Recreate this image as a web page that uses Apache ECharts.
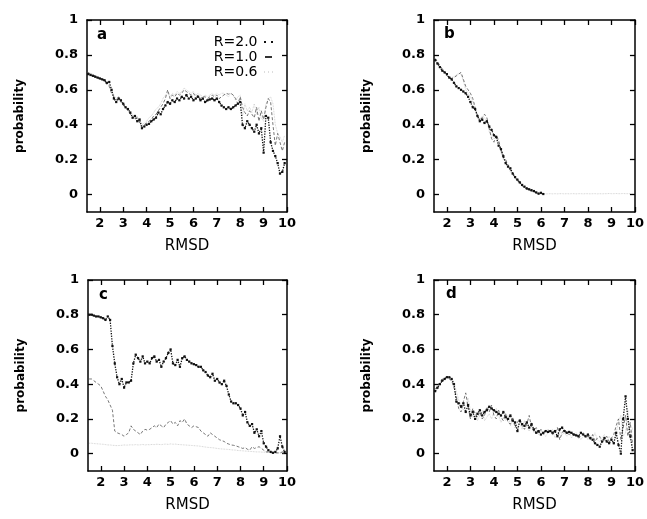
<!DOCTYPE html>
<html>
<head>
<meta charset="utf-8">
<script src="https://cdn.jsdelivr.net/npm/echarts@6/dist/echarts.min.js"></script>
<style>
html,body{margin:0;padding:0;background:#fff;}
#chart{width:647px;height:519px;}
</style>
</head>
<body>
<div id="chart"></div>
<script>
// RMSD grid: 1.5 .. 9.9 step 0.1 (85 points)
const rmsd = Array.from({length: 85}, (_, i) => +(1.5 + 0.1 * i).toFixed(1));
const xTicks = [2, 3, 4, 5, 6, 7, 8, 9, 10];
const yTicks = [0, 0.2, 0.4, 0.6, 0.8, 1];
const panelLabels = ['a', 'b', 'c', 'd'];
const seriesNames = ['R=2.0', 'R=1.0', 'R=0.6'];

// Panel a
const aR20 = [
  .69,.685,.68,.675,.67,.665,.66,.655,.64,.645,
  .60,.55,.53,.55,.54,.52,.50,.49,.47,.44,
  .45,.42,.43,.38,.39,.40,.405,.42,.43,.44,
  .47,.46,.49,.51,.53,.52,.54,.53,.55,.54,
  .56,.55,.57,.55,.56,.54,.55,.56,.54,.55,
  .53,.54,.545,.55,.54,.55,.53,.51,.50,.49,
  .50,.49,.50,.51,.52,.53,.40,.38,.42,.40,
  .38,.36,.40,.35,.38,.24,.45,.44,.30,.25,
  .22,.18,.12,.13,.18];
const aR10 = [
  .70,.69,.685,.68,.67,.665,.66,.65,.63,.62,
  .58,.56,.54,.56,.53,.51,.50,.48,.46,.45,
  .43,.44,.41,.39,.40,.41,.42,.43,.45,.46,
  .48,.50,.52,.55,.60,.55,.57,.56,.58,.57,
  .58,.60,.59,.58,.57,.58,.56,.57,.55,.56,
  .56,.55,.56,.57,.56,.57,.55,.56,.57,.58,
  .575,.58,.57,.55,.52,.56,.50,.47,.45,.48,
  .46,.44,.50,.42,.48,.43,.50,.55,.53,.40,
  .28,.35,.30,.25,.30];
const aR06 = [
  .70,.695,.69,.68,.675,.67,.66,.65,.64,.63,
  .60,.57,.55,.54,.55,.52,.50,.49,.47,.46,
  .44,.45,.42,.40,.41,.42,.44,.45,.47,.49,
  .50,.52,.55,.57,.58,.56,.58,.57,.59,.58,
  .59,.61,.60,.59,.58,.59,.57,.58,.57,.56,
  .57,.56,.57,.58,.57,.58,.57,.58,.58,.57,
  .56,.58,.57,.54,.56,.57,.45,.52,.48,.50,
  .47,.52,.46,.50,.44,.42,.52,.55,.56,.52,
  .40,.35,.33,.30,.34];

// Panel b
const bR20 = [
  .77,.75,.73,.71,.70,.69,.67,.66,.64,.62,
  .61,.60,.59,.58,.56,.53,.50,.49,.45,.42,
  .43,.41,.42,.39,.37,.34,.33,.28,.26,.22,
  .18,.16,.15,.12,.10,.085,.07,.055,.045,.035,
  .03,.025,.02,.012,.005,.01,.003,null,null,null,
  null,null,null,null,null,null,null,null,null,null,
  null,null,null,null,null,null,null,null,null,null,
  null,null,null,null,null,null,null,null,null,null,
  null,null,null,null,null];
const bR10 = [
  .78,.76,.74,.72,.70,.68,.67,.665,.67,.68,
  .69,.70,.66,.62,.60,.58,.55,.50,.45,.43,
  .44,.46,.44,.38,.32,.30,.34,.31,.26,.21,
  .20,.17,.14,.12,.10,.08,.065,.05,.04,.03,
  .025,.02,.015,.01,.008,.005,.004,null,null,null,
  null,null,null,null,null,null,null,null,null,null,
  null,null,null,null,null,null,null,null,null,null,
  null,null,null,null,null,null,null,null,null,null,
  null,null,null,null,null];
const bR06 = [
  .775,.755,.735,.715,.70,.685,.675,.67,.675,.685,
  .695,.69,.65,.60,.58,.56,.53,.48,.44,.43,
  .45,.44,.42,.36,.33,.32,.33,.29,.24,.20,
  .19,.16,.13,.11,.09,.075,.06,.05,.04,.03,
  .025,.02,.015,.012,.008,.006,.005,.004,.004,.005,
  .004,.005,.004,.005,.005,.004,.005,.004,.005,.005,
  .004,.005,.005,.004,.005,.005,.004,.005,.005,.004,
  .005,.004,.005,.005,.006,.005,.005,.006,.005,.005,
  .006,.005,.005,.006,.006];

// Panel c
const cR20 = [
  .80,.80,.795,.79,.79,.785,.78,.77,.79,.77,
  .62,.52,.44,.40,.43,.38,.41,.41,.42,.52,
  .57,.55,.53,.56,.52,.53,.52,.55,.56,.53,
  .54,.50,.53,.55,.58,.60,.52,.51,.54,.50,
  .55,.56,.54,.53,.52,.515,.51,.50,.50,.48,
  .47,.45,.44,.46,.42,.43,.41,.40,.42,.39,
  .34,.30,.29,.29,.28,.26,.22,.24,.18,.16,
  .17,.12,.14,.10,.13,.06,.04,.02,.01,.005,
  .01,.03,.10,.04,.01];
const cR10 = [
  .43,.43,.42,.41,.40,.39,.36,.33,.31,.28,
  .25,.13,.12,.115,.11,.10,.11,.12,.16,.14,
  .13,.12,.11,.13,.14,.135,.14,.15,.16,.15,
  .17,.16,.15,.17,.18,.19,.17,.18,.16,.19,
  .18,.20,.17,.16,.15,.16,.155,.15,.13,.12,
  .11,.10,.12,.11,.10,.09,.08,.075,.07,.06,
  .055,.05,.048,.045,.04,.035,.03,.035,.025,.02,
  .04,.03,.035,.04,.03,.02,.01,.01,.005,.005,
  .004,.004,.004,.01,.004];
const cR06 = [
  .06,.06,.058,.057,.056,.055,.054,.052,.05,.05,
  .048,.047,.046,.047,.048,.05,.049,.05,.051,.05,
  .052,.05,.051,.053,.05,.052,.051,.053,.052,.054,
  .053,.052,.054,.055,.053,.056,.054,.055,.053,.052,
  .051,.05,.049,.048,.047,.046,.045,.044,.042,.04,
  .038,.036,.035,.034,.032,.03,.028,.027,.026,.025,
  .024,.022,.021,.02,.018,.017,.016,.015,.014,.013,
  .012,.011,.01,.01,.009,.008,.008,.007,.006,.006,
  .005,.005,.005,.004,.004];

// Panel d
const dR20 = [
  .36,.38,.40,.42,.43,.44,.44,.43,.40,.30,
  .29,.27,.29,.24,.28,.22,.24,.20,.23,.25,
  .22,.24,.25,.27,.26,.25,.24,.23,.22,.24,
  .21,.20,.22,.19,.18,.13,.19,.17,.16,.18,
  .15,.17,.14,.12,.13,.11,.12,.13,.125,.13,
  .12,.13,.10,.14,.15,.13,.12,.125,.12,.11,
  .105,.10,.12,.11,.10,.11,.09,.08,.06,.05,
  .04,.07,.09,.07,.06,.08,.06,.12,.05,.00,
  .20,.33,.20,.10,.02];
const dR10 = [
  .37,.39,.41,.43,.435,.44,.43,.42,.38,.33,
  .26,.24,.30,.35,.27,.20,.26,.23,.21,.24,
  .20,.22,.27,.24,.28,.22,.20,.25,.21,.19,
  .23,.18,.17,.21,.15,.18,.20,.16,.14,.17,
  .22,.15,.13,.15,.12,.14,.11,.13,.14,.12,
  .11,.12,.15,.08,.12,.14,.12,.11,.12,.10,
  .11,.09,.10,.12,.09,.10,.08,.11,.07,.09,
  .10,.06,.08,.10,.07,.09,.11,.16,.20,.08,
  .15,.22,.10,.18,.05];
const dR06 = [
  .35,.38,.40,.42,.43,.44,.44,.43,.41,.36,
  .31,.28,.25,.27,.32,.25,.21,.24,.19,.22,
  .25,.19,.21,.23,.20,.24,.26,.22,.18,.21,
  .19,.22,.16,.19,.17,.15,.18,.14,.19,.15,
  .13,.18,.12,.14,.11,.13,.12,.10,.12,.13,
  .14,.09,.11,.13,.11,.12,.10,.13,.09,.11,
  .12,.10,.08,.10,.11,.08,.10,.09,.12,.08,
  .07,.09,.11,.06,.10,.08,.05,.12,.18,.22,
  .10,.12,.25,.08,.15];

const panelData = [
  [aR20, aR10, aR06],
  [bR20, bR10, bR06],
  [cR20, cR10, cR06],
  [dR20, dR10, dR06]
];

const FONT = 'DejaVu Sans';
const grids = [
  {left: 87, top: 20, width: 200, height: 192},
  {left: 434, top: 20, width: 201, height: 192},
  {left: 88, top: 280, width: 199, height: 191},
  {left: 434, top: 280, width: 201, height: 191}
];

const lineStyleAxis = {color: '#000', width: 1.5};
const xAxes = [], yAxes = [], series = [], graphics = [];

const styles = [
  {color: '#111', lineStyle: {type: 'dotted', width: 1.3, color: '#111'}, symbol: 'rect', symbolSize: 2.2, showSymbol: true},
  {color: '#555', lineStyle: {type: [3, 2], width: 0.8, color: '#555'}, symbol: 'none', showSymbol: false},
  {color: '#c4c4c4', lineStyle: {type: 'dotted', width: 0.8, color: '#c4c4c4'}, symbol: 'none', showSymbol: false}
];

grids.forEach((g, gi) => {
  const tickCommon = {show: true, inside: true, length: 5, lineStyle: {color: '#000', width: 1.3}};
  xAxes.push({
    gridIndex: gi, type: 'value', min: 1.45, max: 10, position: 'bottom',
    axisLine: {show: true, onZero: false, lineStyle: lineStyleAxis},
    axisTick: Object.assign({customValues: xTicks}, tickCommon),
    axisLabel: {customValues: xTicks, color: '#000', fontFamily: FONT, fontWeight: 'bold', fontSize: 13, margin: 5},
    splitLine: {show: false},
    name: 'RMSD', nameLocation: 'middle', nameGap: 27,
    nameTextStyle: {color: '#000', fontFamily: FONT, fontSize: 15}
  });
  xAxes.push({
    gridIndex: gi, type: 'value', min: 1.45, max: 10, position: 'top',
    axisLine: {show: true, onZero: false, lineStyle: lineStyleAxis},
    axisTick: Object.assign({customValues: xTicks}, tickCommon),
    axisLabel: {show: false}, splitLine: {show: false}
  });
  yAxes.push({
    gridIndex: gi, type: 'value', min: -0.1, max: 1, position: 'left',
    axisLine: {show: true, onZero: false, lineStyle: lineStyleAxis},
    axisTick: Object.assign({customValues: yTicks}, tickCommon),
    axisLabel: {customValues: yTicks, color: '#000', fontFamily: FONT, fontWeight: 'bold', fontSize: 13, margin: 9},
    splitLine: {show: false},
    name: 'probability', nameLocation: 'middle', nameGap: 61,
    nameTextStyle: {color: '#000', fontFamily: FONT, fontWeight: 'bold', fontSize: 12}
  });
  yAxes.push({
    gridIndex: gi, type: 'value', min: -0.1, max: 1, position: 'right',
    axisLine: {show: true, onZero: false, lineStyle: lineStyleAxis},
    axisTick: Object.assign({customValues: yTicks}, tickCommon),
    axisLabel: {show: false}, splitLine: {show: false}
  });

  // draw lightest first so the darkest sits on top
  [2, 1, 0].forEach(si => {
    const vals = panelData[gi][si];
    series.push(Object.assign({
      name: seriesNames[si], type: 'line',
      xAxisIndex: gi * 2, yAxisIndex: gi * 2,
      data: rmsd.map((x, i) => [x, vals[i]]),
      connectNulls: false, animation: false, silent: true,
      itemStyle: {color: styles[si].color}
    }, styles[si]));
  });

  const lblPos = [[97, 28], [444, 27], [99, 288], [446, 287]][gi];
  graphics.push({
    type: 'text', left: lblPos[0], top: lblPos[1],
    style: {text: panelLabels[gi], font: 'bold 15px "DejaVu Sans"', fill: '#000'}
  });
});

const chart = echarts.init(document.getElementById('chart'), null, {renderer: 'canvas'});
chart.setOption({
  backgroundColor: '#fff',
  animation: false,
  grid: grids,
  xAxis: xAxes,
  yAxis: yAxes,
  legend: {
    data: [
      {name: 'R=2.0', icon: 'path://M0,0h2v2h-2z M7,0h2v2h-2z', itemStyle: {color: '#111'}},
      {name: 'R=1.0', icon: 'path://M0,0h7v2h-7z', itemStyle: {color: '#333'}},
      {name: 'R=0.6', icon: 'path://M0,0h1v2h-1z M4,0h1v2h-1z M8,0h1v2h-1z', itemStyle: {color: '#ddd'}}
    ],
    orient: 'vertical', align: 'right',
    right: 369, top: 30,
    itemWidth: 12, itemHeight: 2, itemGap: 1,
    textStyle: {color: '#000', fontFamily: FONT, fontSize: 14, lineHeight: 14}
  },
  graphic: graphics,
  series: series
});
</script>
</body>
</html>
